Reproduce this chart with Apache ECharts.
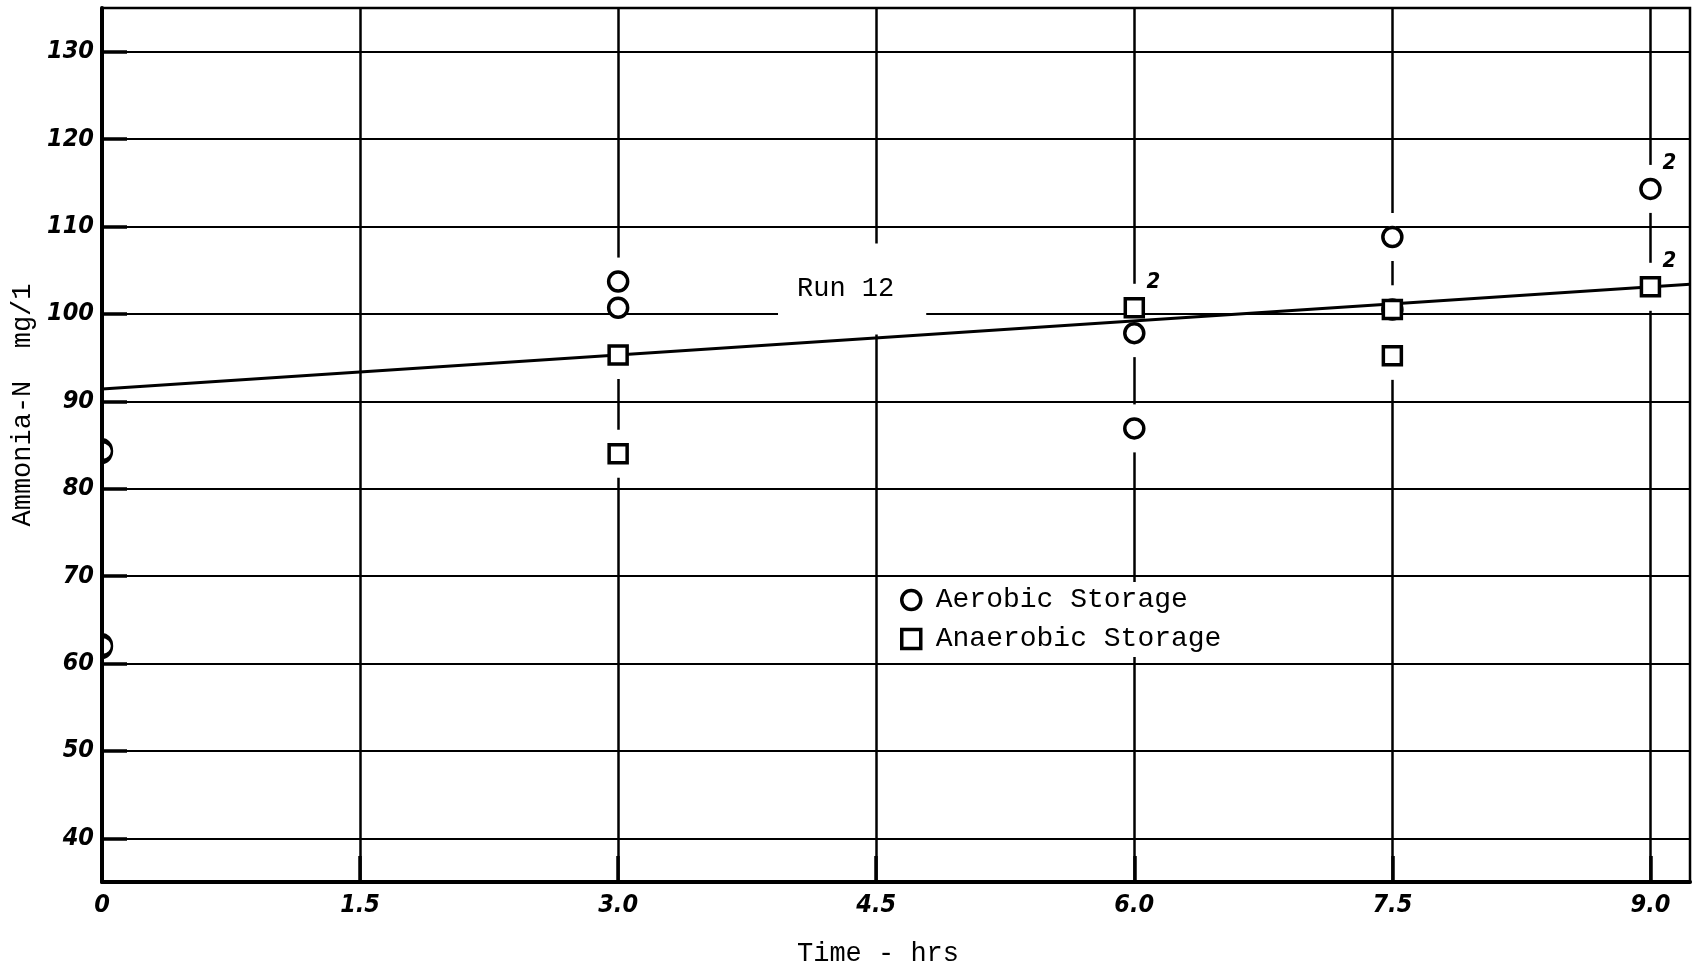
<!DOCTYPE html>
<html><head><meta charset="utf-8">
<script src="https://cdn.jsdelivr.net/npm/echarts@6/dist/echarts.min.js"></script>
<style>html,body{margin:0;padding:0;background:#fff}#c{width:1693px;height:971px}</style>
</head><body><div id="c"></div>
<script>
// ---- data ----
const X_TICKS = [0, 1.5, 3.0, 4.5, 6.0, 7.5, 9.0];
const Y_TICKS = [40, 50, 60, 70, 80, 90, 100, 110, 120, 130];
const AEROBIC_T = [0, 0, 3, 3, 6, 6, 7.5, 7.5, 9];
const AEROBIC_N = [84.3, 62.0, 103.7, 100.7, 97.8, 86.9, 108.8, 100.5, 114.3];
const ANAEROBIC_T = [3, 3, 6, 7.5, 7.5, 9];
const ANAEROBIC_N = [95.3, 84.0, 100.7, 100.5, 95.2, 103.1];
const RUN_LINE_T = [0, 9.23];
const RUN_LINE_N = [91.4, 103.4];
const RUN_LABEL_TEXT = 'Run 12';
const RUN_LABEL_AT = [4.36, 102.86];
const DUPLICATE_T = [6.0, 9.0, 9.0];
const DUPLICATE_N = [100.7, 114.3, 103.1];
const DUPLICATE_COUNT = ['2', '2', '2'];

const MONO = "'Liberation Mono', 'DejaVu Sans Mono', monospace";
const HAND = "'DejaVu Sans Condensed', 'Liberation Sans Narrow', 'DejaVu Sans', sans-serif";

const zip = (a, b) => a.map((v, i) => [v, b[i]]);
const aerobicAll = zip(AEROBIC_T, AEROBIC_N);
const aerobicEdge = aerobicAll.filter(p => p[0] === 0);
const aerobicInner = aerobicAll.filter(p => p[0] > 0);
const anaerobicAll = zip(ANAEROBIC_T, ANAEROBIC_N);
const haloData = aerobicInner.concat(anaerobicAll.filter(p => p[0] > 0));
const halfCircle = 'path://M0,0 C5.52,0 10,4.48 10,10 C10,15.52 5.52,20 0,20';

const chart = echarts.init(document.getElementById('c'), null, { renderer: 'canvas' });
chart.setOption({
  animation: false,
  backgroundColor: '#fff',
  grid: { left: 102, right: 3, top: 8, bottom: 89, show: true, borderColor: '#000', borderWidth: 2.5, outerBoundsMode: 'none' },
  legend: {
    data: ['Aerobic Storage', 'Anaerobic Storage'],
    orient: 'vertical', left: 896, top: 582,
    backgroundColor: '#fff', padding: [4, 10, 4, 4], itemGap: 11,
    itemWidth: 19, itemHeight: 19, selectedMode: false,
    itemStyle: { color: '#fff', borderColor: '#000', borderWidth: 3.5, opacity: 1 },
    textStyle: { fontFamily: MONO, fontSize: 28, color: '#000', padding: [0, 0, 0, 10] }
  },
  xAxis: {
    type: 'value', min: 0, max: 9.23,
    name: 'Time - hrs', nameLocation: 'middle', nameGap: 58,
    nameTextStyle: { fontFamily: MONO, fontSize: 27, color: '#000', padding: [0, 36, 0, 0] },
    axisLine: { show: true, onZero: false, lineStyle: { color: '#000', width: 4 } },
    axisTick: { show: true, inside: true, length: 26, customValues: X_TICKS, lineStyle: { color: '#000', width: 3.5 } },
    axisLabel: { customValues: X_TICKS, margin: 11, color: '#000', fontFamily: HAND, fontStyle: 'italic', fontWeight: 'bold', fontSize: 25,
      formatter: v => v === 0 ? '0' : v.toFixed(1) },
    splitLine: { show: true, lineStyle: { color: '#000', width: 2.5 } }
  },
  yAxis: {
    type: 'value', min: 35, max: 135,
    name: 'Ammonia-N  mg/1', nameLocation: 'middle', nameRotate: 90, nameGap: 64,
    nameTextStyle: { fontFamily: MONO, fontSize: 27, color: '#000', padding: [0, 0, 0, 80] },
    axisLine: { show: true, onZero: false, lineStyle: { color: '#000', width: 4 } },
    axisTick: { show: true, inside: true, length: 25, customValues: Y_TICKS, lineStyle: { color: '#000', width: 3.5 } },
    axisLabel: { customValues: Y_TICKS, margin: 8, color: '#000', fontFamily: HAND, fontStyle: 'italic', fontWeight: 'bold', fontSize: 25 },
    splitLine: { show: true, lineStyle: { color: '#000', width: 2 } }
  },
  series: [
    { // white gaps in the vertical rulings around plotted points
      type: 'scatter', name: 'gap', data: haloData, symbol: 'rect', symbolSize: [7, 48],
      itemStyle: { color: '#fff', opacity: 1 }, silent: true, z: 1, emphasis: { disabled: true }
    },
    {
      type: 'scatter', name: 'label', data: [RUN_LABEL_AT], symbolSize: 1,
      itemStyle: { color: 'rgba(0,0,0,0)', opacity: 1 }, silent: true, z: 1, emphasis: { disabled: true },
      label: { show: true, position: 'inside', formatter: RUN_LABEL_TEXT, color: '#000', fontFamily: MONO, fontSize: 27,
        backgroundColor: '#fff', padding: [32, 32, 32, 19] }
    },
    {
      type: 'line', name: 'Run 12', data: zip(RUN_LINE_T, RUN_LINE_N), showSymbol: false, symbol: 'none',
      lineStyle: { color: '#000', width: 3 }, silent: true, z: 2, emphasis: { disabled: true }
    },
    {
      type: 'scatter', name: 'Aerobic Storage', data: aerobicInner,
      symbol: 'circle', symbolSize: 19,
      itemStyle: { color: '#fff', borderColor: '#000', borderWidth: 3.5, opacity: 1 }, z: 3, emphasis: { disabled: true }
    },
    {
      type: 'scatter', name: 'Aerobic Storage (t = 0)', data: aerobicEdge,
      symbol: halfCircle, symbolSize: [10, 21], symbolOffset: [5, 0], symbolKeepAspect: false,
      itemStyle: { color: 'rgba(0,0,0,0)', borderColor: '#000', borderWidth: 3.5, opacity: 1 }, z: 3, emphasis: { disabled: true }
    },
    {
      type: 'scatter', name: 'Anaerobic Storage', data: anaerobicAll,
      symbol: 'rect', symbolSize: 18,
      itemStyle: { color: '#fff', borderColor: '#000', borderWidth: 3.5, opacity: 1 }, z: 3, emphasis: { disabled: true }
    },
    {
      type: 'scatter', name: 'dup', data: zip(DUPLICATE_T, DUPLICATE_N), symbolSize: 1,
      itemStyle: { color: 'rgba(0,0,0,0)', opacity: 1 }, silent: true, z: 4, emphasis: { disabled: true },
      label: { show: true, position: 'inside', offset: [19, -26], formatter: p => DUPLICATE_COUNT[p.dataIndex],
        color: '#000', fontFamily: HAND, fontStyle: 'italic', fontWeight: 'bold', fontSize: 22 }
    }
  ]
});
</script></body></html>
